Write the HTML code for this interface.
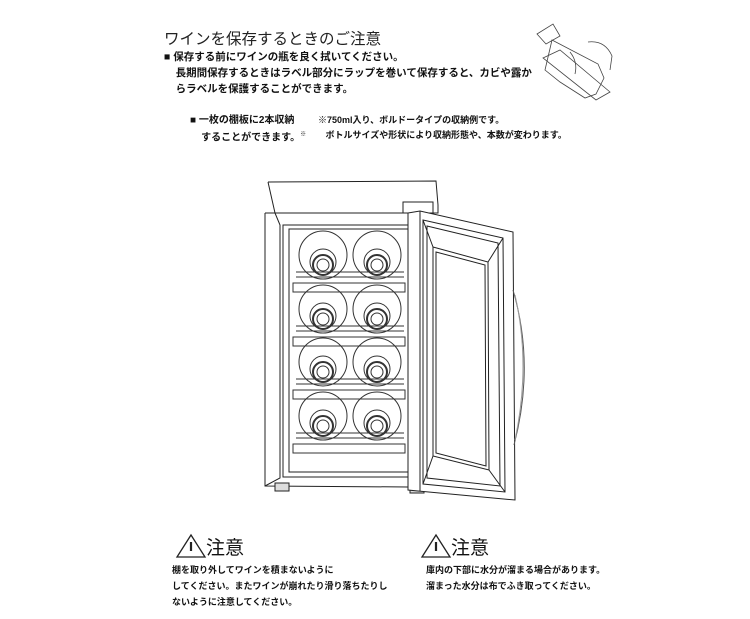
<!DOCTYPE html>
<html><head><meta charset="utf-8"><style>
body{margin:0;background:#fff;width:750px;height:619px;position:relative;overflow:hidden;font-family:"Liberation Sans","Noto Sans CJK JP",sans-serif;color:#111}
.t{position:absolute;white-space:nowrap}
.b{font-weight:bold}
</style></head><body>
<div class="t" style="left:164px;top:27px;font-size:15.5px;color:#222">ワインを保存するときのご注意</div>
<div class="t b" style="left:164px;top:49px;font-size:10.5px;line-height:16px">■ 保存する前にワインの瓶を良く拭いてください。<br>&nbsp;&nbsp;&nbsp;&nbsp;長期間保存するときはラベル部分にラップを巻いて保存すると、カビや露か<br>&nbsp;&nbsp;&nbsp;&nbsp;らラベルを保護することができます。</div>
<div class="t b" style="left:190px;top:113px;font-size:10px;line-height:15px">■ 一枚の棚板に2本収納<br>&nbsp;&nbsp;&nbsp;&nbsp;することができます。<sup style="font-size:6px">※</sup></div>
<div class="t b" style="left:318px;top:113px;font-size:9px;line-height:15px">※750ml入り、ボルドータイプの収納例です。<br>&nbsp;&nbsp;&nbsp;ボトルサイズや形状により収納形態や、本数が変わります。</div>

<svg width="750" height="619" style="position:absolute;left:0;top:0" fill="none" stroke="#222" stroke-width="1">
<g stroke="#444" stroke-width="0.8">
<path d="M537 34 L553 24 L560 36 L546 44 Z"/>
<path d="M552 40 L598 64 L604 78 L596 94 L585 98 L560 82 L545 70 Z"/>
<path d="M543 58 L560 50 L610 92 L596 100 Z"/>
<path d="M588 42 Q605 40 612 56 L610 70"/>
<path d="M570 52 Q578 62 575 74"/>
</g>
<path d="M268 182 L436 181 L438 205 L438 213 L275 213 L268 182"/>
<path d="M265 213 L265 486 L408 487"/>
<path d="M265 213 L275 213 L280 225 L280 478 L265 486"/>
<rect x="283" y="225" width="125" height="252"/>
<rect x="289" y="229" width="119" height="243"/>
<rect x="403" y="202" width="30" height="11"/>
<rect x="275" y="483" width="14" height="8" fill="#ddd"/>
<rect x="410" y="488" width="14" height="5" fill="#ddd"/>
<g stroke="#333">
<g id="r">
<circle cx="323" cy="255" r="24"/><circle cx="323" cy="262" r="13"/><circle cx="323" cy="265" r="10" stroke-width="2"/><circle cx="323" cy="265" r="6"/>
<circle cx="377" cy="255" r="24"/><circle cx="377" cy="262" r="13"/><circle cx="377" cy="265" r="10" stroke-width="2"/><circle cx="377" cy="265" r="6"/>
<path d="M296 272 H404 M296 277 H404"/>
<rect x="293" y="283" width="112" height="9" fill="#fff"/>
</g>
<use href="#r" y="54"/><use href="#r" y="107"/><use href="#r" y="161"/>
</g>
<path d="M408 213 L420 211 L513 232 L515 500 L418 491 L408 490 Z" fill="#fff"/>
<path d="M420 211 L420 491"/>
<path d="M423 220 L503 238 L505 492 L423 484 Z"/>
<path d="M427 226 L498 243 L500 486 L427 478 Z"/>
<path d="M433 247 L488 262 L489 470 L433 456 Z"/>
<path d="M436 252 L485 265 L486 466 L436 453 Z"/>
<path d="M423 220 L433 247 M503 238 L488 262 M505 492 L489 470 M423 484 L433 456"/>
<path d="M513 290 Q535 365 514 445" stroke="#555"/>
<path d="M515 295 Q531 365 515 440" stroke="#999"/>
<g stroke="#222" stroke-width="1.3">
<path d="M177 557 L191 535 L205 557 Z"/><path d="M191 542 V551" stroke-width="2.2"/>
<path d="M422 557 L436 535 L450 557 Z"/><path d="M436 542 V551" stroke-width="2.2"/>
</g>
</svg>
<div class="t" style="left:206px;top:533px;font-size:19px">注意</div>
<div class="t" style="left:451px;top:533px;font-size:19px">注意</div>
<div class="t b" style="left:172px;top:562px;font-size:9px;line-height:16px">棚を取り外してワインを積まないように<br>してください。またワインが崩れたり滑り落ちたりし<br>ないように注意してください。</div>
<div class="t b" style="left:426px;top:562px;font-size:9px;line-height:16px">庫内の下部に水分が溜まる場合があります。<br>溜まった水分は布でふき取ってください。</div>
</body></html>
